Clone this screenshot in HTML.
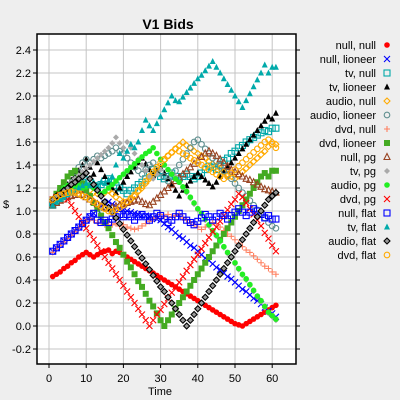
<!DOCTYPE html>
<html><head><meta charset="utf-8"><style>
body{margin:0;background:#eeeeee;}
svg{display:block;font-family:"Liberation Sans",sans-serif;}
</style></head><body>
<svg id="chart" width="400" height="400" viewBox="0 0 400 400">
<rect x="0" y="0" width="400" height="400" fill="#eeeeee"/>
<text x="168" y="29" font-size="14" font-weight="bold" text-anchor="middle">V1 Bids</text>
<rect x="37" y="34" width="259" height="330" fill="#ffffff"/>
<g id="grid"></g><g id="marks"></g><g id="legend"></g>
<rect x="37" y="34" width="259" height="330" fill="none" stroke="#000" stroke-width="1.5"/>
<text x="160" y="395" font-size="11" text-anchor="middle">Time</text>
<text x="6" y="208" font-size="11" text-anchor="middle">$</text>
</svg>
<script>
const xTicks=[0,10,20,30,40,50,60];
const yTicks=[-0.2,0,0.2,0.4,0.6,0.8,1.0,1.2,1.4,1.6,1.8,2.0,2.2,2.4];
const seriesNames=["null, null","null, lioneer","tv, null","tv, lioneer","audio, null","audio, lioneer","dvd, null","dvd, lioneer","null, pg","tv, pg","audio, pg","dvd, pg","null, flat","tv, flat","audio, flat","dvd, flat"];
const nullNull=[0.43,0.45,0.47,0.50,0.52,0.55,0.57,0.60,0.62,0.64,0.62,0.60,0.62,0.64,0.65,0.66,0.63,0.65,0.64,0.62,0.60,0.58,0.56,0.54,0.52,0.50,0.48,0.46,0.44,0.42,0.40,0.38,0.36,0.34,0.32,0.30,0.28,0.26,0.24,0.22,0.20,0.18,0.16,0.14,0.12,0.10,0.08,0.06,0.04,0.02,0.01,0.00,0.02,0.04,0.06,0.08,0.10,0.12,0.14,0.16,0.18];
const nullLioneer=[0.65,0.68,0.71,0.74,0.77,0.80,0.83,0.86,0.89,0.92,0.95,0.98,1.01,1.04,1.07,1.08,1.06,1.04,1.02,1.01,1.00,0.99,0.98,0.97,0.96,0.96,0.95,0.94,0.93,0.92,0.89,0.86,0.84,0.81,0.78,0.76,0.73,0.70,0.68,0.65,0.62,0.59,0.57,0.54,0.51,0.49,0.46,0.43,0.41,0.38,0.35,0.32,0.30,0.27,0.24,0.22,0.19,0.16,0.13,0.11,0.08];
const tvNull=[1.05,1.08,1.11,1.14,1.17,1.20,1.22,1.24,1.25,1.27,1.25,1.22,1.20,1.23,1.26,1.28,1.25,1.22,1.20,1.18,1.15,1.18,1.20,1.23,1.25,1.28,1.32,1.36,1.33,1.30,1.28,1.30,1.33,1.30,1.28,1.30,1.32,1.30,1.28,1.30,1.33,1.36,1.39,1.38,1.36,1.40,1.44,1.46,1.50,1.52,1.55,1.57,1.60,1.62,1.64,1.66,1.68,1.70,1.69,1.72,1.72];
const tvLioneer=[1.07,1.11,1.15,1.19,1.23,1.27,1.31,1.35,1.40,1.45,1.38,1.32,1.42,1.36,1.30,1.25,1.20,1.16,1.20,1.25,1.30,1.34,1.38,1.42,1.46,1.41,1.36,1.31,1.35,1.38,1.33,1.28,1.23,1.18,1.13,1.18,1.22,1.26,1.30,1.33,1.30,1.27,1.24,1.21,1.25,1.30,1.34,1.38,1.42,1.46,1.50,1.54,1.58,1.62,1.66,1.70,1.74,1.78,1.82,1.80,1.85];
const audioNull=[1.08,1.10,1.12,1.13,1.15,1.16,1.17,1.18,1.19,1.20,1.18,1.16,1.15,1.14,1.16,1.18,1.15,1.12,1.10,1.08,1.07,1.10,1.13,1.17,1.20,1.24,1.28,1.32,1.36,1.40,1.44,1.48,1.51,1.54,1.57,1.60,1.57,1.55,1.52,1.50,1.48,1.46,1.43,1.41,1.39,1.37,1.34,1.32,1.30,1.28,1.31,1.34,1.37,1.40,1.43,1.46,1.49,1.52,1.56,1.60,1.58];
const audioLioneer=[1.10,1.14,1.18,1.22,1.26,1.30,1.34,1.38,1.42,1.45,1.42,1.45,1.48,1.46,1.48,1.50,1.52,1.55,1.52,1.50,1.46,1.42,1.38,1.35,1.32,1.36,1.40,1.42,1.38,1.34,1.30,1.26,1.30,1.35,1.40,1.45,1.50,1.55,1.60,1.62,1.58,1.54,1.50,1.46,1.43,1.39,1.35,1.31,1.28,1.24,1.20,1.16,1.13,1.09,1.05,1.01,0.98,0.94,0.90,0.87,0.85];
const dvdNull=[0.64,0.67,0.70,0.73,0.76,0.79,0.82,0.85,0.88,0.91,0.93,0.92,0.90,0.90,0.88,0.90,0.88,0.89,0.87,0.88,0.86,0.85,0.84,0.85,0.87,0.89,0.91,0.93,0.95,0.97,0.95,0.97,0.95,0.96,0.97,0.94,0.92,0.90,0.88,0.86,0.84,0.86,0.88,0.90,0.89,0.86,0.83,0.80,0.78,0.75,0.72,0.69,0.66,0.64,0.61,0.58,0.55,0.52,0.50,0.47,0.45];
const dvdLioneer=[1.10,1.15,1.20,1.25,1.30,1.33,1.35,1.30,1.24,1.18,1.13,1.07,1.02,0.96,0.90,0.85,0.79,0.73,0.68,0.62,0.56,0.51,0.45,0.39,0.34,0.28,0.22,0.17,0.11,0.05,0.00,0.05,0.10,0.15,0.20,0.25,0.30,0.35,0.40,0.45,0.50,0.55,0.60,0.65,0.70,0.75,0.80,0.85,0.90,0.95,1.00,1.05,1.10,1.15,1.20,1.25,1.30,1.33,1.30,1.35,1.35];
const nullPg=[1.05,1.07,1.09,1.10,1.12,1.13,1.14,1.15,1.14,1.12,1.10,1.08,1.06,1.04,1.03,1.02,1.03,1.04,1.05,1.06,1.07,1.08,1.09,1.10,1.08,1.06,1.05,1.08,1.11,1.14,1.17,1.20,1.23,1.26,1.29,1.32,1.35,1.38,1.41,1.44,1.47,1.50,1.52,1.50,1.48,1.45,1.42,1.39,1.36,1.34,1.32,1.30,1.28,1.27,1.25,1.23,1.21,1.19,1.18,1.17,1.16];
const tvPg=[1.10,1.13,1.16,1.19,1.22,1.25,1.28,1.31,1.34,1.37,1.40,1.43,1.46,1.49,1.52,1.55,1.59,1.64,1.59,1.55,1.60,1.55,1.50,1.45,1.40,1.35,1.30,1.28,1.32,1.36,1.40,1.36,1.33,1.30,1.25,1.20,1.16,1.11,1.06,1.01,0.97,0.92,0.87,0.82,0.78,0.73,0.68,0.63,0.59,0.54,0.49,0.44,0.40,0.35,0.30,0.25,0.21,0.16,0.11,0.08,0.05];
const audioPg=[1.10,1.13,1.16,1.20,1.22,1.21,1.20,1.22,1.20,1.21,1.22,1.20,1.18,1.15,1.17,1.20,1.23,1.26,1.29,1.32,1.35,1.38,1.41,1.44,1.47,1.50,1.52,1.55,1.50,1.45,1.40,1.36,1.32,1.28,1.25,1.21,1.17,1.12,1.07,1.02,0.98,0.93,0.88,0.83,0.79,0.74,0.69,0.64,0.60,0.55,0.50,0.45,0.41,0.36,0.31,0.26,0.22,0.17,0.12,0.09,0.06];
const dvdPg=[1.10,1.12,1.14,1.15,1.10,1.05,1.00,0.95,0.90,0.85,0.80,0.75,0.70,0.65,0.60,0.55,0.50,0.45,0.40,0.35,0.30,0.25,0.20,0.15,0.10,0.05,0.00,0.05,0.10,0.14,0.19,0.24,0.29,0.34,0.38,0.43,0.48,0.53,0.58,0.62,0.67,0.72,0.77,0.82,0.86,0.91,0.96,1.01,1.06,1.10,1.15,1.12,1.07,1.02,0.97,0.92,0.87,0.81,0.76,0.70,0.65];
const nullFlat=[0.65,0.68,0.71,0.74,0.77,0.80,0.83,0.86,0.89,0.92,0.95,0.98,0.92,0.90,0.92,0.90,0.93,0.95,0.97,0.95,0.97,0.95,0.92,0.95,0.97,0.95,0.92,0.95,0.98,0.96,0.93,0.90,0.92,0.95,0.98,0.95,0.92,0.90,0.88,0.91,0.94,0.97,0.95,0.92,0.95,0.98,0.96,0.93,0.96,0.99,1.02,0.99,0.96,0.99,1.02,1.00,0.97,0.94,0.96,0.93,0.93];
const tvFlat=[1.05,1.08,1.10,1.12,1.14,1.16,1.18,1.20,1.22,1.24,1.22,1.25,1.22,1.25,1.24,1.27,1.30,1.40,1.50,1.46,1.52,1.58,1.55,1.60,1.70,1.79,1.74,1.70,1.76,1.82,1.88,1.94,2.00,1.96,1.95,1.99,2.03,2.07,2.11,2.15,2.18,2.22,2.26,2.30,2.25,2.20,2.15,2.10,2.05,2.00,1.95,1.90,1.96,2.02,2.08,2.14,2.20,2.27,2.20,2.25,2.25];
const audioFlat=[1.10,1.13,1.15,1.18,1.20,1.23,1.25,1.28,1.30,1.33,1.28,1.23,1.18,1.13,1.08,1.03,0.99,0.94,0.89,0.84,0.79,0.74,0.69,0.64,0.59,0.54,0.49,0.44,0.39,0.34,0.30,0.25,0.20,0.15,0.10,0.05,0.00,0.05,0.10,0.15,0.20,0.25,0.30,0.35,0.40,0.45,0.50,0.55,0.60,0.65,0.70,0.75,0.80,0.85,0.90,0.95,1.00,1.05,1.10,1.13,1.16];
const dvdFlat=[1.10,1.12,1.14,1.15,1.16,1.17,1.16,1.15,1.13,1.12,1.10,1.08,1.06,1.04,1.02,1.00,0.99,1.01,1.03,1.05,1.08,1.11,1.14,1.18,1.22,1.26,1.30,1.34,1.38,1.42,1.45,1.48,1.51,1.54,1.52,1.50,1.48,1.46,1.44,1.42,1.40,1.38,1.36,1.34,1.32,1.30,1.28,1.30,1.33,1.36,1.39,1.42,1.45,1.48,1.51,1.54,1.57,1.60,1.62,1.58,1.55];

const seriesData=[nullNull,nullLioneer,tvNull,tvLioneer,audioNull,audioLioneer,dvdNull,dvdLioneer,nullPg,tvPg,audioPg,dvdPg,nullFlat,tvFlat,audioFlat,dvdFlat];
const styles=[["circleF","#ff0000"],["x","#0000ff"],["square","#00a8a8"],["triF","#000000"],["diamond","#ffaa00"],["circle","#5f8f8f"],["plus","#ff8060"],["squareF","#44aa22"],["tri","#994422"],["diamondF","#aaaaaa"],["circleF","#22ee22"],["x","#ff0000"],["square","#0000ff"],["triF","#00aaaa"],["diamondK","#000000"],["circle","#ffaa00"]];
const NS="http://www.w3.org/2000/svg";
const xs=t=>49+t*3.72;
const ys=v=>326-v*115;
const S=3;
function mk(tag,attrs,parent){const e=document.createElementNS(NS,tag);for(const k in attrs)e.setAttribute(k,attrs[k]);parent.appendChild(e);return e;}
const grid=document.getElementById('grid'),marks=document.getElementById('marks'),legend=document.getElementById('legend'),svg=document.getElementById('chart');
xTicks.forEach(t=>{
  const l=mk('line',{x1:xs(t),x2:xs(t),y1:34,y2:364,stroke:'#c4c4c4'},grid);
  
  
  const tk=mk('line',{x1:xs(t),x2:xs(t),y1:364,y2:368,stroke:'#000'},svg);
  
  
  const tx=mk('text',{x:xs(t),y:382,'font-size':11,'text-anchor':'middle'},svg);
  tx.textContent=t;
  
  
});
yTicks.forEach(v=>{
  const l=mk('line',{x1:37,x2:296,y1:ys(v),y2:ys(v),stroke:'#c4c4c4'},grid);
  
  
  const tk=mk('line',{x1:33,x2:37,y1:ys(v),y2:ys(v),stroke:'#000'},svg);
  
  
  const tr=mk('line',{x1:296,x2:300,y1:ys(v),y2:ys(v),stroke:'#000'},svg);
  
  
  const tx=mk('text',{x:31,y:ys(v)+4,'font-size':11,'text-anchor':'end'},svg);
  tx.textContent=v.toFixed(1);
  
  
});
function marker(type,c,x,y,parent){
  let e;
  if(type==='circleF')e=mk('circle',{cx:x,cy:y,r:2.8,fill:c},parent);
  else if(type==='circle')e=mk('circle',{cx:x,cy:y,r:2.8,fill:'none',stroke:c,'stroke-width':1.1},parent);
  else if(type==='x')e=mk('path',{d:`M${x-S} ${y-S}L${x+S} ${y+S}M${x-S} ${y+S}L${x+S} ${y-S}`,stroke:c,'stroke-width':1.1,fill:'none'},parent);
  else if(type==='plus')e=mk('path',{d:`M${x-S} ${y}L${x+S} ${y}M${x} ${y+S}L${x} ${y-S}`,stroke:c,'stroke-width':1.1,fill:'none'},parent);
  else if(type==='square')e=mk('rect',{x:x-S,y:y-S,width:2*S,height:2*S,fill:'none',stroke:c,'stroke-width':1.1},parent);
  else if(type==='squareF')e=mk('rect',{x:x-S,y:y-S,width:2*S,height:2*S,fill:c},parent);
  else if(type==='triF')e=mk('path',{d:`M${x} ${y-3.5}L${x+S} ${y+2.5}L${x-S} ${y+2.5}Z`,fill:c},parent);
  else if(type==='tri')e=mk('path',{d:`M${x} ${y-3.5}L${x+S} ${y+2.5}L${x-S} ${y+2.5}Z`,fill:'none',stroke:c,'stroke-width':1.1},parent);
  else if(type==='diamond')e=mk('path',{d:`M${x} ${y-S}L${x+S} ${y}L${x} ${y+S}L${x-S} ${y}Z`,fill:'none',stroke:c,'stroke-width':1.1},parent);
  else if(type==='diamondF')e=mk('path',{d:`M${x} ${y-S}L${x+S} ${y}L${x} ${y+S}L${x-S} ${y}Z`,fill:c},parent);
  else e=mk('path',{d:`M${x} ${y-S}L${x+S} ${y}L${x} ${y+S}L${x-S} ${y}Z`,fill:'#999',stroke:c,'stroke-width':1.1},parent);
  return e;
}
seriesData.forEach((arr,i)=>{
  const g=mk('g',{},marks);
  
  
  arr.forEach((v,j)=>{
    const m=marker(styles[i][0],styles[i][1],xs(j+1),ys(v),g);
    
    
  });
  const y=45+i*14;
  const lg=mk('g',{},legend);
  
  
  const t=mk('text',{x:376,y:y+4,'font-size':11,'text-anchor':'end'},lg);
  t.textContent=seriesNames[i];
  const lm=marker(styles[i][0],styles[i][1],387,y,lg);
  
  
});
</script>
</body></html>
